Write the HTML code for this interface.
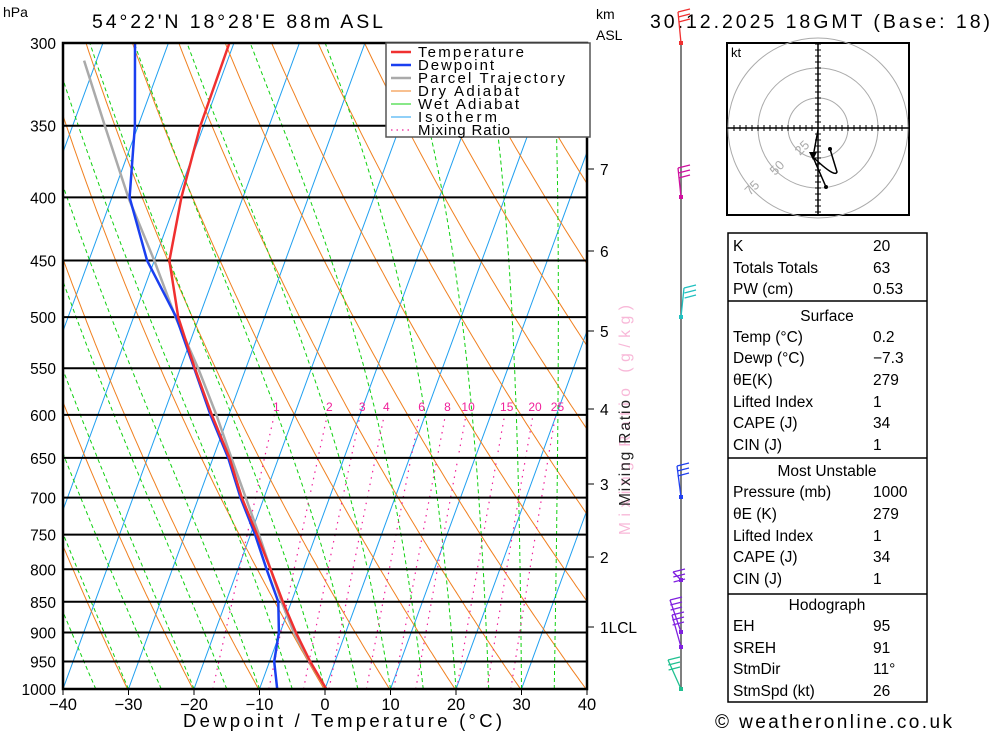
<!DOCTYPE html>
<html><head><meta charset="utf-8"><style>
body{margin:0;background:#fff;}
svg{display:block;font-family:"Liberation Sans",sans-serif;}
</style></head><body>
<svg id="chart" width="1000" height="733" viewBox="0 0 1000 733" xmlns="http://www.w3.org/2000/svg">
<defs><clipPath id="pc"><rect x="63" y="43" width="524" height="646"/></clipPath></defs>
<rect width="1000" height="733" fill="#fff"/>
<g id="bg" clip-path="url(#pc)"></g>
<g id="hlines"></g>
<g id="prof" clip-path="url(#pc)"></g>
<g id="axes"></g>
<g id="legend">
<rect x="386" y="43" width="204" height="94" fill="#fff" stroke="#555" stroke-width="1.5"/>
<g font-size="15" fill="#000" lengthAdjust="spacing">
<line x1="391" y1="52" x2="411" y2="52" stroke="#f03030" stroke-width="2.5"/><text x="418" y="57" textLength="106">Temperature</text>
<line x1="391" y1="65" x2="411" y2="65" stroke="#1a3ff0" stroke-width="2.5"/><text x="418" y="70" textLength="76">Dewpoint</text>
<line x1="391" y1="78" x2="411" y2="78" stroke="#aaa" stroke-width="2.5"/><text x="418" y="83" textLength="147">Parcel Trajectory</text>
<line x1="391" y1="91" x2="411" y2="91" stroke="#f08020" stroke-width="1"/><text x="418" y="96" textLength="101">Dry Adiabat</text>
<line x1="391" y1="104" x2="411" y2="104" stroke="#10d010" stroke-width="1"/><text x="418" y="109" textLength="101">Wet Adiabat</text>
<line x1="391" y1="117" x2="411" y2="117" stroke="#20a0f0" stroke-width="1"/><text x="418" y="122" textLength="79">Isotherm</text>
<line x1="391" y1="130" x2="411" y2="130" stroke="#f0209a" stroke-width="1.2" stroke-dasharray="1.5,4"/><text x="418" y="135" textLength="92">Mixing Ratio</text>
</g></g>
<text x="3" y="17" font-size="14">hPa</text>
<text x="92" y="28" font-size="19.5" textLength="291">54°22'N 18°28'E 88m ASL</text>
<text x="596" y="19" font-size="14">km</text>
<text x="596" y="40" font-size="14">ASL</text>
<text x="650" y="28" font-size="19.5" textLength="340">30.12.2025 18GMT (Base: 18)</text>
<text x="183" y="727" font-size="18.5" textLength="319">Dewpoint / Temperature (°C)</text>
<g transform="translate(630,420) rotate(-90)">
<text x="-115" y="0" font-size="15.5" fill="#f8b8d8" textLength="230">Mixing Ratio (g/kg)</text>
<text x="-86" y="0" font-size="15.5" fill="#222" textLength="106">Mixing Ratio</text>
</g>
<g id="winds"></g>
<g id="hodo"></g>
<g id="tables" font-size="15.5"></g>
<text x="715" y="728" font-size="19" textLength="237">© weatheronline.co.uk</text>
</svg>
<script>
const NS="http://www.w3.org/2000/svg";
// ---- data ----
const pressures=[1000,950,900,850,800,750,700,650,600,550,500,450,400,350,300];
const tempValues=[0.2,-3.8,-7.6,-11.3,-15.0,-19.0,-23.4,-27.5,-32.6,-37.8,-43.2,-47.7,-49.4,-50.5,-50.7];
const dewValues=[-7.3,-9.3,-10.2,-12.0,-15.6,-19.3,-23.6,-27.7,-32.8,-37.9,-43.5,-51.1,-57.3,-60.5,-65.1];
const parcelPressures=[1000,950,900,850,800,750,700,650,600,550,500,450,400,350,310];
const parcelValues=[0.2,-3.9,-7.9,-11.5,-15.0,-18.7,-22.8,-27.2,-31.9,-37.3,-43.6,-50.0,-57.5,-65.1,-71.9];
const pTicks=[1000,950,900,850,800,750,700,650,600,550,500,450,400,350,300];
const tTicks=[-40,-30,-20,-10,0,10,20,30,40];
const kmLabels=["1","2","3","4","5","6","7"];
const kmY=[627,557,484,409,331,251,169];
const mixRatios=[1,2,3,4,6,8,10,15,20,25];
// ---- axes ----
const X0=325,SX=6.55,K=0.366,YB=689,YT=43;
const L=Math.log(1000/300);
function yP(p){return YB-(YB-YT)*Math.log(1000/p)/L;}
function xT(T,p){return X0+SX*T+K*(YB-yP(p));}
function mk(tag,attrs,parent){const e=document.createElementNS(NS,tag);for(const k in attrs)e.setAttribute(k,attrs[k]);parent.appendChild(e);return e;}
const bg=document.getElementById('bg');
function polyline(pts,stroke,w,dash,parent,name){const e=mk('polyline',{points:pts.map(a=>a[0].toFixed(1)+','+a[1].toFixed(1)).join(' '),fill:'none',stroke:stroke,'stroke-width':w},parent);if(dash)e.setAttribute('stroke-dasharray',dash);

return e;}
const plev=[];for(let p=1000;p>=290;p-=5)plev.push(p);
for(let T=-130;T<=40;T+=10){polyline([[xT(T,1000),yP(1000)],[xT(T,290),yP(290)]],'#20a0f0',1,null,bg,'isotherm');}
for(let th=203;th<=493;th+=10){polyline(plev.map(p=>[xT(th*Math.pow(p/1000,0.286)-273.15,p),yP(p)]),'#f08020',1,null,bg,'dry-adiabat');}
function es(T){return 6.112*Math.exp(17.67*T/(T+243.5));}
for(let T0=-40;T0<=40;T0+=5){let T=T0+273.15;const pts=[];for(let p=1000;p>=290;p-=5){pts.push([xT(T-273.15,p),yP(p)]);const rs=0.622*es(T-273.15)/(p-es(T-273.15));const Lv=2.5e6,Rd=287,cp=1005;const dTdp=(Rd*T+Lv*rs)/(p*(cp+Lv*Lv*rs*0.622/(Rd*T*T)));T-=dTdp*5;}
polyline(pts,'#10d010',1,'4,3',bg,'wet-adiabat');}
function tdW(w,p){const e=w*p/(622+w);const a=Math.log(e/6.112);return 243.5*a/(17.67-a);}
mixRatios.forEach(w=>{const pts=[];for(let p=1000;p>=600;p-=10)pts.push([xT(tdW(w,p),p),yP(p)]);polyline(pts,'#f0209a',1.2,'1.5,5',bg,'mixing-ratio-line');
const t=mk('text',{x:xT(tdW(w,600),600)+2,y:yP(600)-4,'font-size':12,fill:'#f0209a','text-anchor':'middle'},document.getElementById('axes'));t.textContent=w;

});
const hl=document.getElementById('hlines'),ax=document.getElementById('axes');
pTicks.forEach(p=>{const l=mk('line',{x1:63,x2:587,y1:yP(p),y2:yP(p),stroke:'#000','stroke-width':2},hl);


const t=mk('text',{x:56,y:yP(p)+6,'font-size':15.5,'text-anchor':'end'},ax);t.textContent=p;

});
tTicks.forEach(T=>{const x=X0+SX*T;mk('line',{x1:x,x2:x,y1:689,y2:695,stroke:'#000','stroke-width':1},ax);const t=mk('text',{x:x,y:710,'font-size':16.5,'text-anchor':'middle'},ax);t.textContent=(T<0?'\u2212':'')+Math.abs(T);

});
mk('rect',{x:63,y:43,width:524,height:646,fill:'none',stroke:'#000','stroke-width':2.5},ax);
kmLabels.forEach((k,i)=>{mk('line',{x1:587,x2:594,y1:kmY[i],y2:kmY[i],stroke:'#000'},ax);const t=mk('text',{x:600,y:kmY[i]+6,'font-size':15.5},ax);t.textContent=k+(k==='1'?'LCL':'');

});
const pr=document.getElementById('prof');
polyline(parcelPressures.map((p,i)=>[xT(parcelValues[i],p),yP(p)]),'#aaa',2.5,null,pr,'parcel-trajectory');
polyline(pressures.map((p,i)=>[xT(dewValues[i],p),yP(p)]),'#1a3ff0',2.5,null,pr,'dewpoint-line');
polyline(pressures.map((p,i)=>[xT(tempValues[i],p),yP(p)]),'#f03030',2.5,null,pr,'temperature-line');
const wg=document.getElementById('winds');
mk('line',{x1:681,x2:681,y1:43,y2:689,stroke:'#555','stroke-width':1.5},wg);
const barbs=[[43,'#f03030',678,12],[197,'#d010a0',678,168],[317,'#20c0c0',684,288],[497,'#2040f0',677,466],[580,'#8020e0',673,572],[632,'#8020e0',670,600],[647,'#8020e0',672,615],[689,'#20c090',668,660]];
barbs.forEach(b=>{mk('line',{x1:681,y1:b[0],x2:b[2],y2:b[3],stroke:b[1],'stroke-width':1.3},wg);for(let i=0;i<3;i++)mk('line',{x1:b[2]+i*0.3,y1:b[3]+i*5,x2:b[2]+12,y2:b[3]+i*5-3,stroke:b[1],'stroke-width':1.2},wg);mk('rect',{x:679,y:b[0]-2,width:4,height:4,fill:b[1]},wg);});
const hg=document.getElementById('hodo');
mk('rect',{x:727,y:43,width:182,height:172,fill:'#fff',stroke:'#000','stroke-width':2},hg);
[30,60,90].forEach(r=>mk('circle',{cx:818,cy:128,r:r,fill:'none',stroke:'#aaa','stroke-width':1},hg));
mk('line',{x1:727,x2:909,y1:128,y2:128,stroke:'#000','stroke-width':1.5},hg);
mk('line',{x1:818,x2:818,y1:43,y2:215,stroke:'#000','stroke-width':1.5},hg);
for(let d=-84;d<=84;d+=6){mk('line',{x1:818+d,x2:818+d,y1:125,y2:131,stroke:'#000'},hg);mk('line',{x1:815,x2:821,y1:128+d,y2:128+d,stroke:'#000'},hg);}
[['25',800,156],['50',775,176],['75',750,196]].forEach(a=>{const t=mk('text',{x:a[1],y:a[2],'font-size':13,fill:'#aaa',transform:`rotate(-45 ${a[1]} ${a[2]})`},hg);t.textContent=a[0];});
const kt=mk('text',{x:731,y:57,'font-size':13},hg);kt.textContent='kt';
mk('polyline',{points:'818,130 813,157 826,187',fill:'none',stroke:'#000','stroke-width':1.5},hg);
mk('path',{d:'M813,157 Q835,178 837,172 L830,149',fill:'none',stroke:'#000','stroke-width':1.5},hg);
mk('polygon',{points:'809,152 817,152 813,160',fill:'#000'},hg);
mk('circle',{cx:826,cy:187,r:2,fill:'#000'},hg);mk('circle',{cx:830,cy:149,r:2,fill:'#000'},hg);
const tb=document.getElementById('tables');
const rows=[["K","20",245],["Totals Totals","63",267],["PW (cm)","0.53",288],
["#Surface","",315],["Temp (°C)","0.2",336],["Dewp (°C)","\u22127.3",357],["θE(K)","279",379],["Lifted Index","1",401],["CAPE (J)","34",422],["CIN (J)","1",444],
["#Most Unstable","",470],["Pressure (mb)","1000",491],["θE (K)","279",513],["Lifted Index","1",535],["CAPE (J)","34",556],["CIN (J)","1",578],
["#Hodograph","",604],["EH","95",625],["SREH","91",647],["StmDir","11°",668],["StmSpd (kt)","26",690]];
mk('rect',{x:728,y:233,width:199,height:469,fill:'none',stroke:'#000','stroke-width':1.5},tb);
[301,458,594].forEach(y=>mk('line',{x1:728,x2:927,y1:y,y2:y,stroke:'#000','stroke-width':1.5},tb));
rows.forEach(r=>{if(r[0][0]==='#'){const t=mk('text',{x:827,y:r[2]+6,'text-anchor':'middle'},tb);t.textContent=r[0].slice(1);

}
else{const a=mk('text',{x:733,y:r[2]+6},tb);a.textContent=r[0];


const b=mk('text',{x:873,y:r[2]+6},tb);b.textContent=r[1];

}});
</script>
</body></html>
